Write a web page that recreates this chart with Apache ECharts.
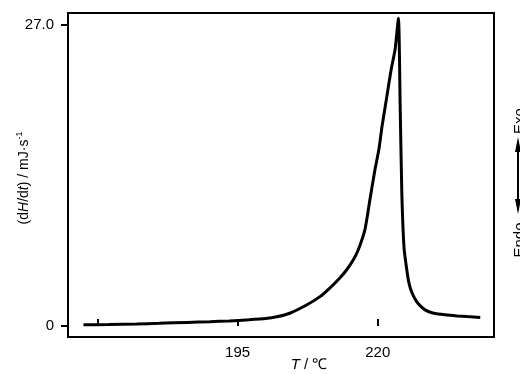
<!DOCTYPE html>
<html>
<head>
<meta charset="utf-8">
<script src="https://cdn.jsdelivr.net/npm/echarts@6/dist/echarts.min.js"></script>
<style>
  html, body { margin: 0; padding: 0; background: #fff; }
  #chart { width: 520px; height: 374px; }
</style>
</head>
<body>
<div id="chart"></div>
<script>
// DSC curve: temperature (°C) and heat flow dH/dt (mJ/s)
const temps = [
  167.5, 172, 177, 181, 186, 190, 193.5, 197, 200, 202, 204.3, 207.3, 209.7,
  211.4, 213.2, 214.4, 215.6, 216.5, 217.7, 218.6, 219.5, 220.2, 220.8, 221.6,
  222.4, 223.1, 223.7, 224.0, 224.3, 224.7, 225.2, 225.6, 226.1, 226.8, 227.6,
  228.6, 230.0, 232.0, 234.2, 236.0, 238.3
];
const heatFlow = [
  0.1, 0.13, 0.18, 0.24, 0.32, 0.38, 0.45, 0.55, 0.66, 0.82, 1.14, 1.88, 2.63,
  3.38, 4.28, 5.0, 5.9, 6.8, 8.6, 11.3, 14.0, 15.8, 18.0, 20.5,
  23.0, 24.8, 27.6, 20.0, 12.0, 7.0, 5.0, 3.8, 3.0, 2.3, 1.8,
  1.4, 1.14, 1.0, 0.9, 0.84, 0.77
];
const xTicks = [170, 195, 220];
const xLabels = [195, 220];
const yTicks = [0, 27];

const font = "'Liberation Sans', Arial, sans-serif";

const chart = echarts.init(document.getElementById('chart'));
chart.setOption({
  animation: false,
  grid: {
    left: 68,
    top: 13,
    right: 26,
    bottom: 37,
    show: true,
    borderColor: '#000',
    borderWidth: 2,
  },
  xAxis: {
    type: 'value',
    min: 164.74,
    max: 240.75,
    axisLine: { show: false },
    splitLine: { show: false },
    axisTick: {
      inside: true,
      length: 7,
      customValues: xTicks,
      lineStyle: { color: '#000', width: 2 },
    },
    axisLabel: {
      customValues: xLabels,
      margin: 8,
      color: '#000',
      fontFamily: font,
      fontSize: 15,
    },
  },
  yAxis: {
    type: 'value',
    min: -0.99,
    max: 28.08,
    axisLine: { show: false },
    splitLine: { show: false },
    axisTick: {
      length: 7,
      customValues: yTicks,
      lineStyle: { color: '#000', width: 2 },
    },
    axisLabel: {
      customValues: yTicks,
      margin: 14,
      color: '#000',
      fontFamily: font,
      fontSize: 15,
      formatter: v => (v === 0 ? '0' : v.toFixed(1)),
    },
  },
  series: [{
    type: 'line',
    data: temps.map((t, i) => [t, heatFlow[i]]),
    symbol: 'none',
    smooth: 0.2,
    lineStyle: { color: '#000', width: 3 },
  }],
  graphic: [
    {
      type: 'text',
      x: 309,
      y: 365,
      style: {
        text: '{i|T} / ℃',
        align: 'center',
        verticalAlign: 'middle',
        fill: '#000',
        font: '15px ' + font,
        rich: { i: { fontStyle: 'italic', fontFamily: font, fontSize: 15 } },
      },
    },
    {
      type: 'text',
      x: 24,
      y: 178,
      rotation: Math.PI / 2,
      style: {
        text: '(d{i|H}/d{i|t}) / mJ·s{sup|-1}',
        align: 'center',
        verticalAlign: 'middle',
        fill: '#000',
        font: '14px ' + font,
        rich: {
          i: { fontStyle: 'italic', fontFamily: font, fontSize: 14 },
          sup: { fontFamily: font, fontSize: 9, verticalAlign: 'top', padding: [0, 0, 8, 0] },
        },
      },
    },
    {
      type: 'text',
      x: 520,
      y: 121,
      rotation: Math.PI / 2,
      style: { text: 'Exo', align: 'center', verticalAlign: 'middle', fill: '#000', font: '15px ' + font },
    },
    {
      type: 'text',
      x: 520,
      y: 240,
      rotation: Math.PI / 2,
      style: { text: 'Endo', align: 'center', verticalAlign: 'middle', fill: '#000', font: '15px ' + font },
    },
    {
      type: 'line',
      shape: { x1: 518, y1: 142, x2: 518, y2: 210 },
      style: { stroke: '#000', lineWidth: 2 },
    },
    {
      type: 'polygon',
      shape: { points: [[518, 137], [515, 152], [521, 152]] },
      style: { fill: '#000' },
    },
    {
      type: 'polygon',
      shape: { points: [[518, 214], [515, 199], [521, 199]] },
      style: { fill: '#000' },
    },
  ],
});
</script>
</body>
</html>
